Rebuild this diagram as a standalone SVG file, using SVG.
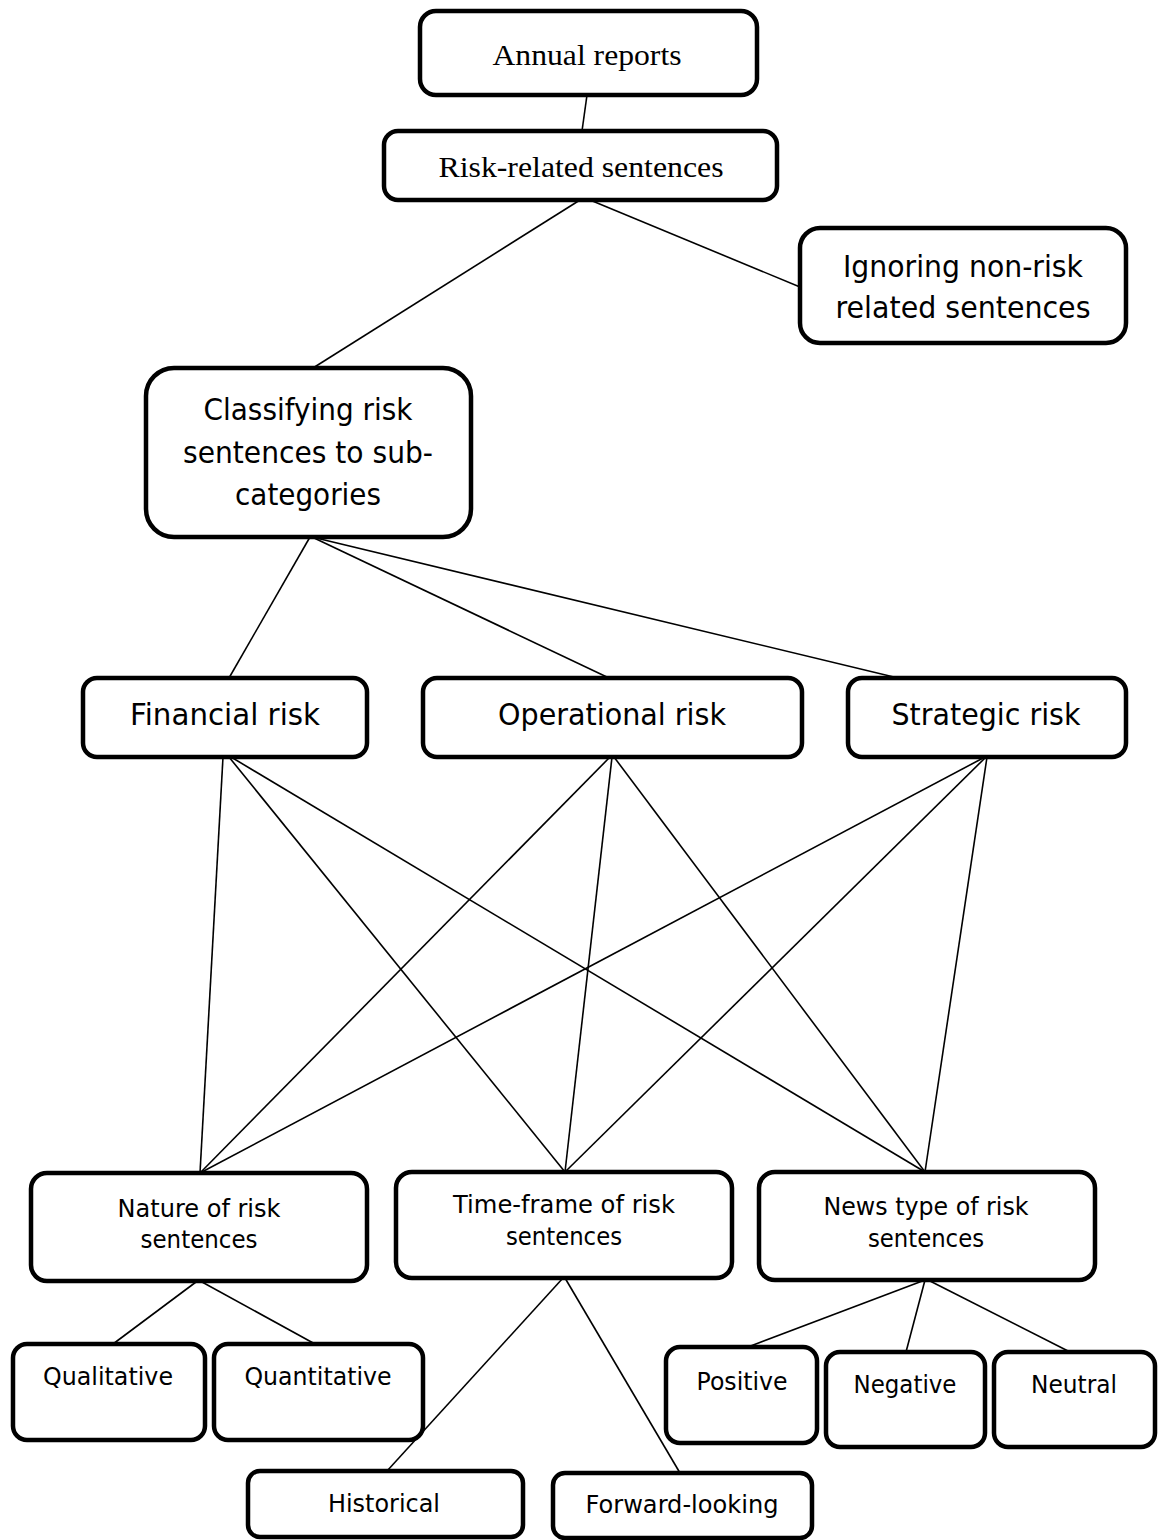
<svg xmlns="http://www.w3.org/2000/svg" width="1158" height="1540" viewBox="0 0 1158 1540">
<style>
.box{fill:#fff;stroke:#000;stroke-width:4.5}
.ln{stroke:#000;stroke-width:1.6;fill:none}
.serif{font-family:"Liberation Serif","Times New Roman",serif;font-size:30px;fill:#000;text-anchor:middle}
.big{font-family:"DejaVu Sans","Noto Sans",sans-serif;font-size:30px;fill:#000;text-anchor:middle}
.sm{font-family:"DejaVu Sans","Noto Sans",sans-serif;font-size:25px;fill:#000;text-anchor:middle}
</style>
<rect width="1158" height="1540" fill="#fff"/>
<g id="nodes">
<g id="annual"><rect class="box" x="420" y="11" width="337" height="84" rx="16"/><text class="serif" x="587" y="65" textLength="189" lengthAdjust="spacingAndGlyphs">Annual reports</text></g>
<g id="riskrel"><rect class="box" x="384" y="131" width="393" height="69" rx="14"/><text class="serif" x="581" y="177" textLength="285" lengthAdjust="spacingAndGlyphs">Risk-related sentences</text></g>
<g id="ignoring"><rect class="box" x="800" y="228" width="326" height="115" rx="20"/><text class="big" x="963" y="277" textLength="240" lengthAdjust="spacingAndGlyphs">Ignoring non-risk</text><text class="big" x="963" y="318" textLength="255" lengthAdjust="spacingAndGlyphs">related sentences</text></g>
<g id="classifying"><rect class="box" x="146" y="368" width="325" height="169" rx="28"/><text class="big" x="308" y="420" textLength="209" lengthAdjust="spacingAndGlyphs">Classifying risk</text><text class="big" x="308" y="463" textLength="250" lengthAdjust="spacingAndGlyphs">sentences to sub-</text><text class="big" x="308" y="505" textLength="146" lengthAdjust="spacingAndGlyphs">categories</text></g>
<g id="financial"><rect class="box" x="83" y="678" width="284" height="79" rx="14"/><text class="big" x="225" y="725" textLength="190" lengthAdjust="spacingAndGlyphs">Financial risk</text></g>
<g id="operational"><rect class="box" x="423" y="678" width="379" height="79" rx="14"/><text class="big" x="612" y="725" textLength="228" lengthAdjust="spacingAndGlyphs">Operational risk</text></g>
<g id="strategic"><rect class="box" x="848" y="678" width="278" height="79" rx="14"/><text class="big" x="986" y="725" textLength="189" lengthAdjust="spacingAndGlyphs">Strategic risk</text></g>
<g id="nature"><rect class="box" x="31" y="1173" width="336" height="108" rx="16"/><text class="sm" x="199" y="1217" textLength="163" lengthAdjust="spacingAndGlyphs">Nature of risk</text><text class="sm" x="199" y="1248" textLength="117" lengthAdjust="spacingAndGlyphs">sentences</text></g>
<g id="timeframe"><rect class="box" x="396" y="1172" width="336" height="106" rx="16"/><text class="sm" x="564" y="1213" textLength="222" lengthAdjust="spacingAndGlyphs">Time-frame of risk</text><text class="sm" x="564" y="1245" textLength="116" lengthAdjust="spacingAndGlyphs">sentences</text></g>
<g id="news"><rect class="box" x="759" y="1172" width="336" height="108" rx="16"/><text class="sm" x="926" y="1215" textLength="205" lengthAdjust="spacingAndGlyphs">News type of risk</text><text class="sm" x="926" y="1247" textLength="116" lengthAdjust="spacingAndGlyphs">sentences</text></g>
<g id="qualitative"><rect class="box" x="13" y="1344" width="192" height="96" rx="14"/><text class="sm" x="108" y="1385" textLength="130" lengthAdjust="spacingAndGlyphs">Qualitative</text></g>
<g id="quantitative"><rect class="box" x="214" y="1344" width="209" height="96" rx="14"/><text class="sm" x="318" y="1385" textLength="147" lengthAdjust="spacingAndGlyphs">Quantitative</text></g>
<g id="positive"><rect class="box" x="666" y="1347" width="151" height="96" rx="14"/><text class="sm" x="742" y="1390" textLength="91" lengthAdjust="spacingAndGlyphs">Positive</text></g>
<g id="negative"><rect class="box" x="826" y="1352" width="159" height="95" rx="14"/><text class="sm" x="905" y="1393" textLength="103" lengthAdjust="spacingAndGlyphs">Negative</text></g>
<g id="neutral"><rect class="box" x="994" y="1352" width="161" height="95" rx="14"/><text class="sm" x="1074" y="1393" textLength="86" lengthAdjust="spacingAndGlyphs">Neutral</text></g>
<g id="historical"><rect class="box" x="248" y="1471" width="275" height="66" rx="12"/><text class="sm" x="384" y="1512" textLength="112" lengthAdjust="spacingAndGlyphs">Historical</text></g>
<g id="forward"><rect class="box" x="553" y="1473" width="259" height="65" rx="12"/><text class="sm" x="682" y="1513" textLength="193" lengthAdjust="spacingAndGlyphs">Forward-looking</text></g>
</g>
<g id="connectors">
<line class="ln" x1="587" y1="95" x2="582" y2="131"/>
<line class="ln" x1="580" y1="200" x2="313" y2="368"/>
<line class="ln" x1="590" y1="200" x2="800" y2="287"/>
<line class="ln" x1="310" y1="537" x2="229" y2="678"/>
<line class="ln" x1="312" y1="537" x2="609" y2="678"/>
<line class="ln" x1="312" y1="537" x2="898" y2="678"/>
<line class="ln" x1="223" y1="757" x2="200" y2="1173"/>
<line class="ln" x1="229" y1="757" x2="565" y2="1172"/>
<line class="ln" x1="231" y1="757" x2="925" y2="1172"/>
<line class="ln" x1="610" y1="757" x2="200" y2="1173"/>
<line class="ln" x1="612" y1="757" x2="565" y2="1172"/>
<line class="ln" x1="614" y1="757" x2="925" y2="1172"/>
<line class="ln" x1="985" y1="757" x2="200" y2="1173"/>
<line class="ln" x1="986" y1="757" x2="565" y2="1172"/>
<line class="ln" x1="987" y1="757" x2="925" y2="1172"/>
<line class="ln" x1="196" y1="1282" x2="113" y2="1344"/>
<line class="ln" x1="202" y1="1282" x2="315" y2="1344"/>
<line class="ln" x1="563" y1="1278" x2="387" y2="1471"/>
<line class="ln" x1="565" y1="1278" x2="680" y2="1473"/>
<line class="ln" x1="925" y1="1280" x2="748" y2="1347"/>
<line class="ln" x1="925" y1="1280" x2="906" y2="1352"/>
<line class="ln" x1="928" y1="1280" x2="1070" y2="1352"/>
</g>
</svg>
